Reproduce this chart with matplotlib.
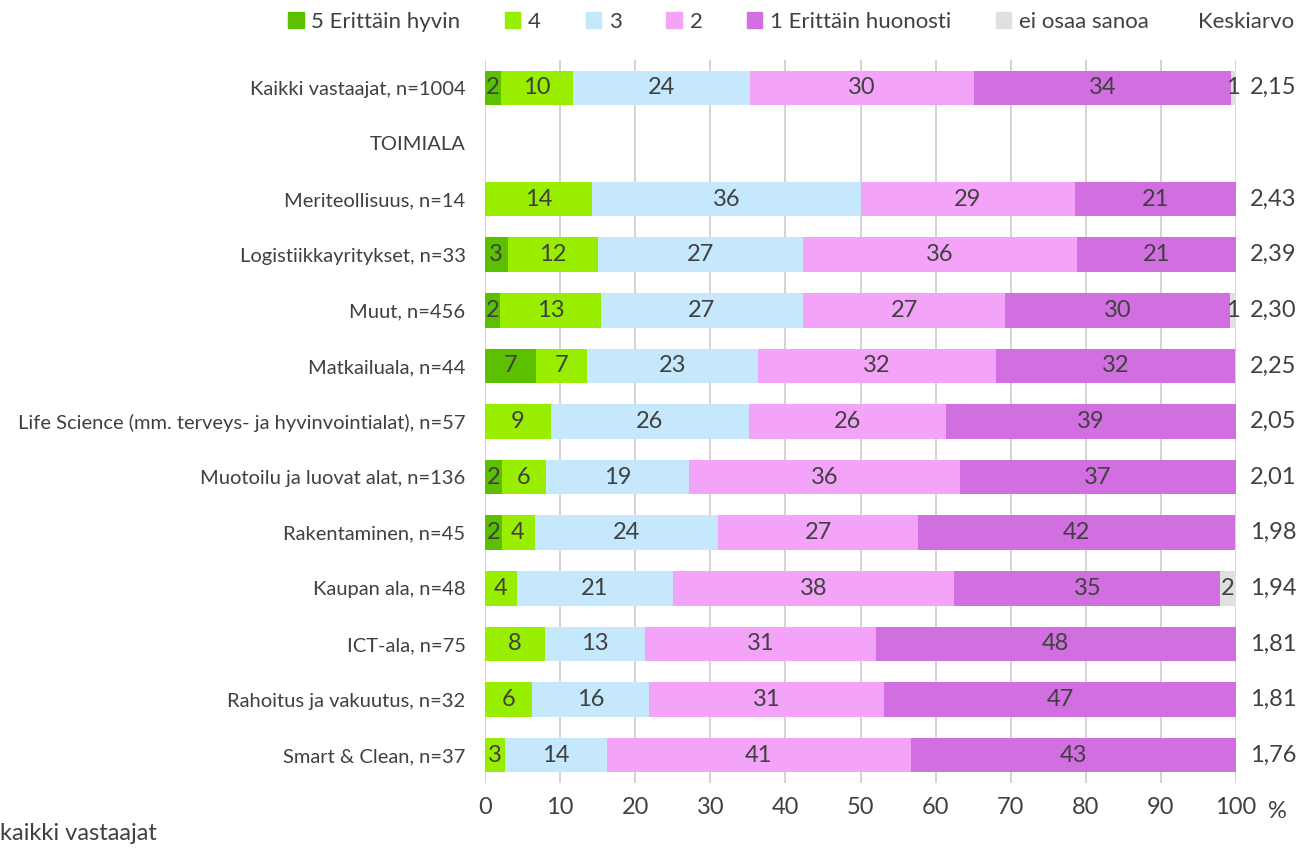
import matplotlib.pyplot as plt
from matplotlib.patches import Patch
import numpy as np

plt.rcParams['font.family'] = ['Lato', 'DejaVu Sans']

categories = ['Kaikki vastaajat, n=1004', 'TOIMIALA', 'Meriteollisuus, n=14',
              'Logistiikkayritykset, n=33', 'Muut, n=456', 'Matkailuala, n=44',
              'Life Science (mm. terveys- ja hyvinvointialat), n=57',
              'Muotoilu ja luovat alat, n=136', 'Rakentaminen, n=45', 'Kaupan ala, n=48',
              'ICT-ala, n=75', 'Rahoitus ja vakuutus, n=32', 'Smart & Clean, n=37']

# shares in %, one list per answer option (TOIMIALA is a heading row)
s5 = [2.1, 0, 0, 3.0, 2.0, 6.8, 0, 2.2, 2.2, 0, 0, 0, 0]
s4 = [9.6, 0, 14.3, 12.1, 13.4, 6.8, 8.8, 5.9, 4.4, 4.2, 8.0, 6.25, 2.7]
s3 = [23.6, 0, 35.7, 27.3, 26.9, 22.7, 26.3, 19.1, 24.4, 20.8, 13.3, 15.6, 13.5]
s2 = [29.8, 0, 28.6, 36.4, 27.0, 31.8, 26.3, 36.0, 26.7, 37.5, 30.7, 31.25, 40.54]
s1 = [34.2, 0, 21.4, 21.2, 29.9, 31.8, 38.6, 36.8, 42.2, 35.4, 48.0, 46.9, 43.2]
eos = [0.7, 0, 0, 0, 0.8, 0, 0, 0, 0, 2.1, 0, 0, 0]
means = ['2,15', '', '2,43', '2,39', '2,30', '2,25', '2,05', '2,01', '1,98', '1,94', '1,81', '1,81', '1,76']

series = [s5, s4, s3, s2, s1, eos]
names = ['5 Erittäin hyvin', '4', '3', '2', '1 Erittäin huonosti', 'ei osaa sanoa']
colors = ['#5cbf00', '#99ee00', '#c5e8fc', '#f4a4f8', '#d16fe0', '#e0e0e0']
txt = '#404040'

fig = plt.figure(figsize=(13.15, 8.48), dpi=100)
ax = fig.add_axes([485/1315, 1-783/848, (1236-485)/1315, (783-60)/848])

y = np.arange(len(categories))
left = np.zeros(len(categories))
for vals, c in zip(series, colors):
    vals = np.array(vals)
    ax.barh(y, vals, left=left, height=0.62, color=c, zorder=2)
    for yi, v, l in zip(y, vals, left):
        if v > 0:
            ax.text(l + v/2, yi, f'{v:.0f}', ha='center', va='center',
                    fontsize=17, color=txt, zorder=3)
    left += vals

for yi, m in zip(y, means):
    ax.text(101.8, yi, m, ha='left', va='center', fontsize=17, color=txt, clip_on=False)

ax.set_xlim(0, 100)
ax.set_ylim(len(categories) - 0.5, -0.5)
ax.set_xticks(range(0, 101, 10))
ax.set_yticks(y)
ax.set_yticklabels(categories, fontsize=14.5, color=txt)
ax.tick_params(axis='y', length=0, pad=14)
ax.tick_params(axis='x', length=0, pad=10, labelsize=17, labelcolor=txt)
ax.grid(axis='x', color='#d0d0d0', linewidth=1.3, zorder=0)
for s in ax.spines.values():
    s.set_visible(False)

handles = [Patch(color=c, label=n) for c, n in zip(colors, names)]
fig.legend(handles=handles, loc='center left', bbox_to_anchor=(268/1315, 1-22/848),
           ncol=6, frameon=False, fontsize=16, handlelength=0.7, handleheight=0.7,
           handletextpad=0.35, columnspacing=2.0, labelcolor=txt)
fig.text(1198/1315, 1-22/848, 'Keskiarvo', ha='left', va='center', fontsize=16, color=txt)
fig.text(1268/1315, 1-812/848, '%', ha='left', va='center', fontsize=17, color=txt)
fig.text(0.0, 1-833/848, 'kaikki vastaajat', ha='left', va='center', fontsize=17, color=txt)

fig.savefig('out.png', dpi=100)
